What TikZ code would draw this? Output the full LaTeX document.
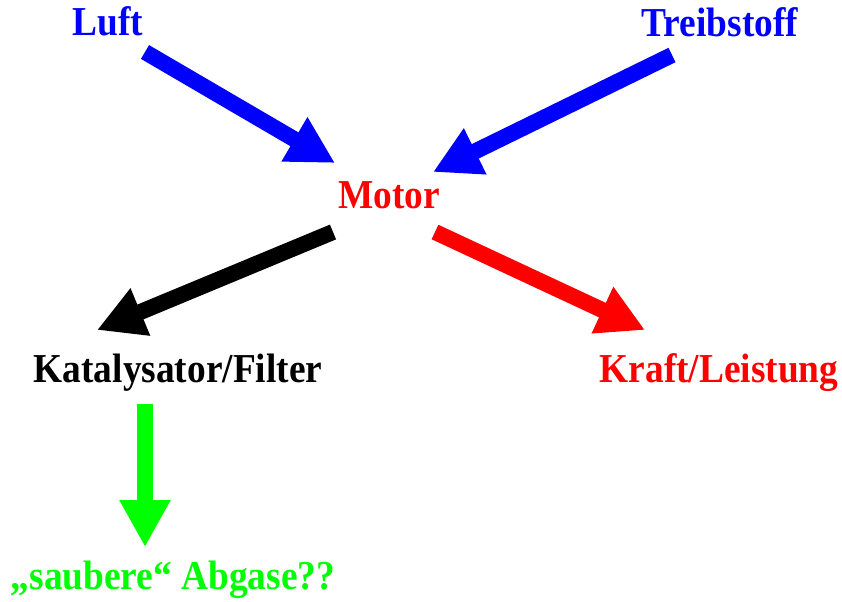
\documentclass[tikz,border=0pt]{standalone}
\usepackage{fontspec}
\setmainfont{Liberation Serif}
\usetikzlibrary{arrows.meta}

\definecolor{luftblau}{RGB}{0,0,255}
\definecolor{motorrot}{RGB}{255,0,0}
\definecolor{abgasgruen}{RGB}{0,255,0}

\newcommand{\hoch}[1]{\scalebox{1}[1.1]{#1}}

\tikzset{
    label text/.style={anchor=base, inner sep=0pt, font=\fontsize{37.5}{40}\selectfont\bfseries},
    fat arrow/.style={line width=16bp, -{Triangle[length=47bp,width=48bp]}}
}

\begin{document}
\begin{tikzpicture}[x=1bp, y=-1bp]
    \useasboundingbox (0,0) rectangle (842,602);

    % Inputs
    \node[label text, luftblau] (luft) at (108,36) {\hoch{Luft}};
    \node[label text, luftblau] (treibstoff) at (720,37) {\hoch{Treibstoff}};

    % Motor
    \node[label text, motorrot] (motor) at (389,209) {\hoch{Motor}};

    % Outputs
    \node[label text] (kat) at (178,382) {\hoch{Katalysator/Filter}};
    \node[label text, motorrot] (kraft) at (719,382) {\hoch{Kraft/Leistung}};
    \node[label text, abgasgruen] (abgase) at (173,589) {\hoch{„saubere“ Abgase??}};

    % Arrow end points
    \coordinate (luft-end) at (145,52);
    \coordinate (motor-in1) at (335,163);
    \coordinate (treib-end) at (672,55);
    \coordinate (motor-in2) at (433,172);
    \coordinate (motor-out1) at (333,232);
    \coordinate (kat-in) at (97,330);
    \coordinate (motor-out2) at (435,232);
    \coordinate (kraft-in) at (645,330);
    \coordinate (kat-out) at (145,404);
    \coordinate (abgase-in) at (145,547);

    % Arrows
    \draw[fat arrow, luftblau] (luft-end) -- (motor-in1);
    \draw[fat arrow, luftblau] (treib-end) -- (motor-in2);
    \draw[fat arrow, black] (motor-out1) -- (kat-in);
    \draw[fat arrow, motorrot] (motor-out2) -- (kraft-in);
    \draw[fat arrow, abgasgruen] (kat-out) -- (abgase-in);
\end{tikzpicture}
\end{document}
